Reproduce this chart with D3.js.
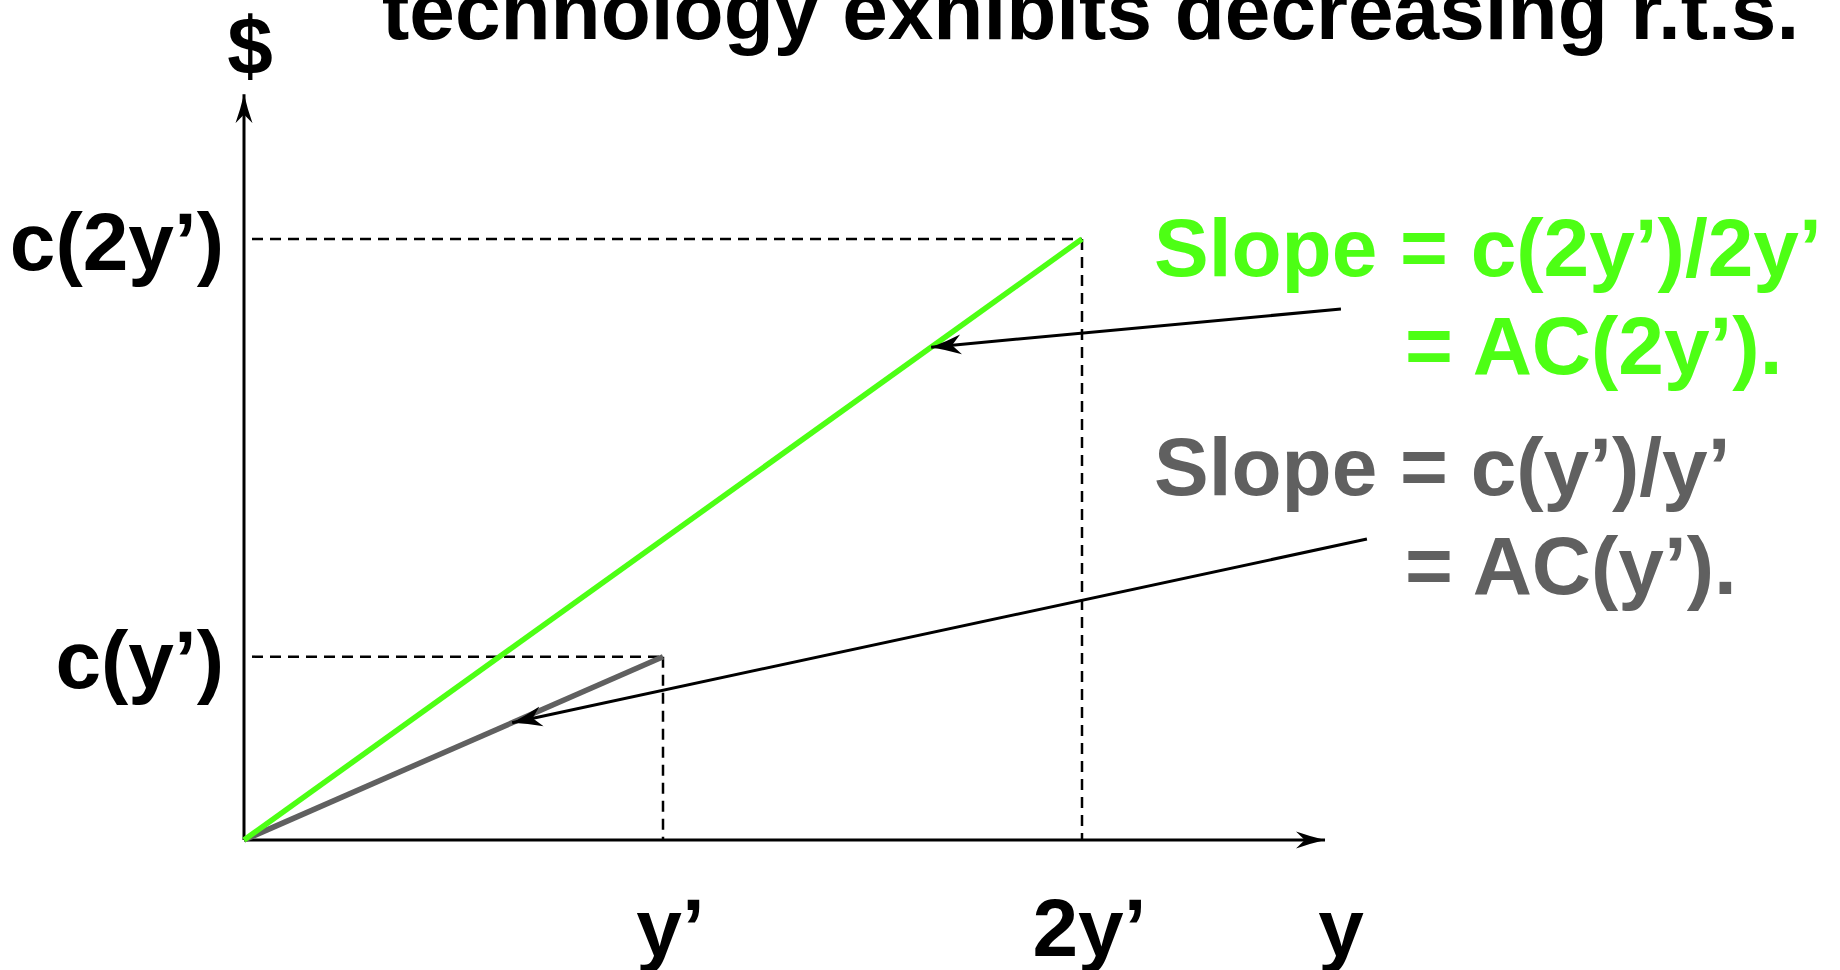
<!DOCTYPE html>
<html lang="en">
<head>
    <meta charset="UTF-8">
    <title>Decreasing returns to scale - average cost</title>
    <script src="https://d3js.org/d3.v7.min.js"></script>
    <style>
        html, body { margin: 0; padding: 0; background: #ffffff; }
        body { font-family: "Liberation Sans", Arial, sans-serif; }
        svg text { font-weight: bold; }
    </style>
</head>
<body>
    <div class="chart"></div>

    <script>
        // output levels on the y axis (in units of y')
        const outputTicks = [1, 2];
        const outputLabels = ["y\u2019", "2y\u2019"];
        // total cost at y' and 2y' (c(2y') = 1)
        const costTicks = [0.305, 1];
        const costLabels = ["c(y\u2019)", "c(2y\u2019)"];
        // the two rays from the origin : slope = average cost
        const rayNames = ["AC(y')", "AC(2y')"];
        const rayEnds = [[1, 0.305], [2, 1]];
        // where each annotation arrow starts (data units) and where it lands on its ray (fraction)
        const arrowStarts = [[2.68, 0.5008], [2.618, 0.8835]];
        const arrowLanding = [0.64, 0.82];
        // annotation text
        const noteLines = [
            ["Slope = c(y\u2019)/y\u2019", "= AC(y\u2019)."],
            ["Slope = c(2y\u2019)/2y\u2019", "= AC(2y\u2019)."]
        ];
        const titleText = "technology exhibits decreasing r.t.s.";

        const W = 1840, H = 970;
        const green = "#4dff14", grey = "#606060";
        const rayColors = [grey, green];
        const fs = 82;

        const svg = d3.select('.chart').append('svg')
            .attr('width', W).attr('height', H);

        const x = d3.scaleLinear().domain([0, 2]).range([244, 1082]);
        const y = d3.scaleLinear().domain([0, 1]).range([840, 239]);
        const xMax = 2.58, yMax = 1.241;

        //marqueurs fleches
        const defs = svg.append('defs');
        function addMarker(id, len, half, notch){
            defs.append('marker')
                .attr('id', id)
                .attr('markerUnits', 'userSpaceOnUse')
                .attr('viewBox', `0 ${-half-1} ${len+1} ${2*half+2}`)
                .attr('markerWidth', len+1).attr('markerHeight', 2*half+2)
                .attr('refX', len).attr('refY', 0)
                .attr('orient', 'auto')
                .append('path')
                .attr('d', `M0,${-half} Q${len*0.5},${-half*0.4} ${len},0 Q${len*0.5},${half*0.4} 0,${half} L${len*notch},0 Z`)
                .attr('fill', '#000');
        }
        addMarker('axisHead', 29, 8.5, 0.3);
        addMarker('noteHead', 30, 10, 0.3);

        //titre
        svg.append('text')
            .attr('x', 382).attr('y', 39)
            .attr('font-size', fs)
            .attr('fill', '#000')
            .text(titleText);

        //pointillés
        const guides = svg.append('g')
            .attr('fill', 'none')
            .attr('stroke', '#000')
            .attr('stroke-width', 2.5)
            .attr('stroke-dasharray', '11,7');
        rayEnds.forEach(p => {
            guides.append('line')
                .attr('x1', x(0) + 8).attr('y1', y(p[1]))
                .attr('x2', x(p[0])).attr('y2', y(p[1]));
            guides.append('line')
                .attr('x1', x(p[0])).attr('y1', y(p[1]))
                .attr('x2', x(p[0])).attr('y2', y(0));
        });

        //axes
        svg.append('line')
            .attr('x1', x(0)).attr('y1', y(0))
            .attr('x2', x(xMax)).attr('y2', y(0))
            .attr('stroke', '#000').attr('stroke-width', 3)
            .attr('marker-end', 'url(#axisHead)');
        svg.append('line')
            .attr('x1', x(0)).attr('y1', y(0))
            .attr('x2', x(0)).attr('y2', y(yMax))
            .attr('stroke', '#000').attr('stroke-width', 3)
            .attr('marker-end', 'url(#axisHead)');

        const xAxis = svg.append('g')
            .attr('transform', `translate(0,${y(0)})`)
            .call(d3.axisBottom(x).tickValues(outputTicks)
                .tickSize(0).tickPadding(58)
                .tickFormat((d, i) => outputLabels[i]));
        const yAxis = svg.append('g')
            .attr('transform', `translate(${x(0)},0)`)
            .call(d3.axisLeft(y).tickValues(costTicks)
                .tickSize(0).tickPadding(20)
                .tickFormat((d, i) => costLabels[i]));
        [xAxis, yAxis].forEach(a => {
            a.select('.domain').remove();
            a.selectAll('text')
                .attr('font-family', '"Liberation Sans", Arial, sans-serif')
                .attr('font-size', fs)
                .attr('font-weight', 'bold')
                .attr('fill', '#000');
        });
        xAxis.selectAll('text').attr('dx', 7);
        yAxis.selectAll('text').attr('dy', '0.37em');

        // axis names
        svg.append('text')
            .attr('x', x(xMax) + 16).attr('y', 956)
            .attr('text-anchor', 'middle')
            .attr('font-size', fs)
            .text('y');
        svg.append('text')
            .attr('x', x(0) + 6).attr('y', 74)
            .attr('text-anchor', 'middle')
            .attr('font-size', fs)
            .text('$');

        //rayons
        svg.selectAll('.ray')
            .data(rayEnds)
            .enter()
            .append('line')
            .attr('class', 'ray')
            .attr('x1', x(0)).attr('y1', y(0))
            .attr('x2', d => x(d[0])).attr('y2', d => y(d[1]))
            .attr('stroke', (d, i) => rayColors[i])
            .attr('stroke-width', 5.5);

        //flèches d'annotation
        svg.selectAll('.pointer')
            .data(arrowStarts)
            .enter()
            .append('line')
            .attr('class', 'pointer')
            .attr('x1', d => x(d[0])).attr('y1', d => y(d[1]))
            .attr('x2', (d, i) => x(rayEnds[i][0] * arrowLanding[i]))
            .attr('y2', (d, i) => y(rayEnds[i][1] * arrowLanding[i]))
            .attr('stroke', '#000').attr('stroke-width', 3)
            .attr('marker-end', 'url(#noteHead)');

        //textes
        const notePos = [[1154, 495, 1405, 594], [1154, 276, 1405, 374]];
        noteLines.forEach((lines, i) => {
            const p = notePos[i];
            const g = svg.append('g').attr('fill', rayColors[i]).attr('font-size', fs);
            g.append('text').attr('x', p[0]).attr('y', p[1]).text(lines[0]);
            g.append('text').attr('x', p[2]).attr('y', p[3]).text(lines[1]);
        });
    </script>
</body>
</html>
